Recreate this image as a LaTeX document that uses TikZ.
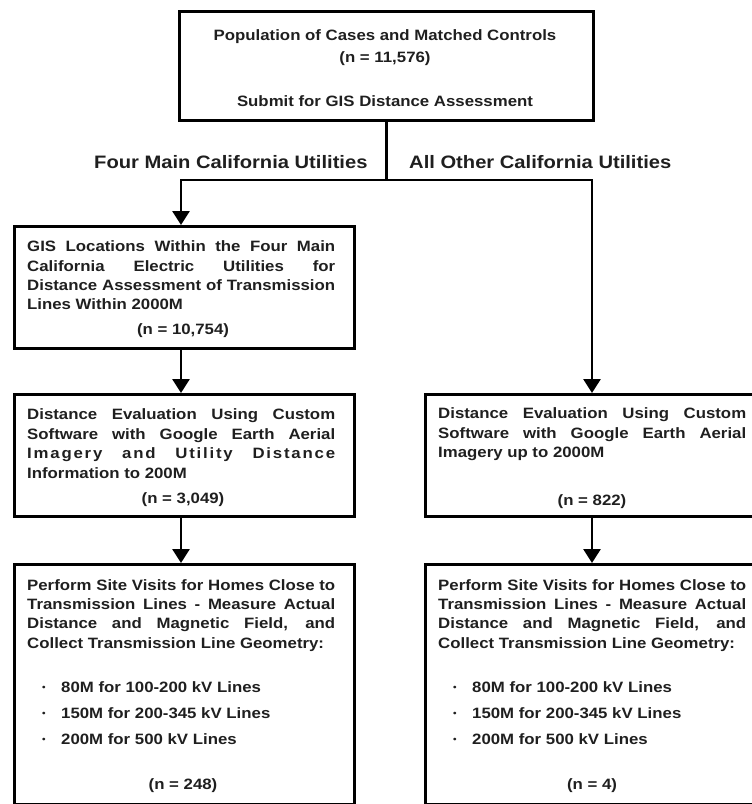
\documentclass[tikz,border=0pt]{standalone}
\usepackage{fontspec}
\setmainfont{Liberation Sans}[FakeStretch=1.12]
\usetikzlibrary{arrows.meta}
\newcommand{\jl}[1]{\makebox[308pt][s]{#1}}
\begin{document}
\begin{tikzpicture}[x=1pt,y=-1pt,
  box/.style={draw=black, line width=2.8pt, inner sep=0pt, anchor=north west},
  tx/.style={anchor=base west, inner sep=0pt, text=black!88, font=\bfseries\fontsize{15}{19}\selectfont},
  ctr/.style={anchor=base, inner sep=0pt, text=black!88, font=\bfseries\fontsize{15}{19}\selectfont},
  lab/.style={anchor=base west, inner sep=0pt, text=black!88, font=\bfseries\fontsize{18}{22}\selectfont},
  bul/.style={anchor=base, inner sep=0pt, text=black!88, font=\bfseries\fontsize{9}{10}\selectfont},
  ln/.style={line width=2.8pt, line join=miter},
  arr/.style={line width=2.8pt, line join=miter, -{Triangle[width=17pt,length=14pt]}}]
\useasboundingbox (0,0) rectangle (752,804);
% boxes
\node[box, minimum width=414pt, minimum height=109pt] (top) at (178,10) {};
\node[box, minimum width=340pt, minimum height=122pt] (lb1) at (13,225) {};
\node[box, minimum width=340pt, minimum height=122pt] (lb2) at (13,393) {};
\node[box, minimum width=340pt, minimum height=240pt] (lb3) at (13,563) {};
\node[box, minimum width=337pt, minimum height=122pt] (rb1) at (424,393) {};
\node[box, minimum width=337pt, minimum height=240pt] (rb2) at (424,563) {};
% top box text
\node[ctr] (t1) at (385,40) {Population of Cases and Matched Controls};
\node[ctr] (t2) at (385,62) {(n = 11,576)};
\node[ctr] (t3) at (385,106) {Submit for GIS Distance Assessment};
% labels
\node[lab] (labl) at (94,168) {Four Main California Utilities};
\node[lab] (labr) at (409,168) {All Other California Utilities};
% connectors
\coordinate (jn) at (top.south |- 0,180);
\coordinate (jl) at (181,180);
\coordinate (jr) at (592,180);
\draw[ln] (top.south) -- (jn);
\draw[arr] (jn) -- (jl) -- (jl |- lb1.north);
\draw[arr] (jn) -- (jr) -- (jr |- rb1.north);
\draw[arr] (lb1.south -| jl) -- (jl |- lb2.north);
\draw[arr] (lb2.south -| jl) -- (jl |- lb3.north);
\draw[arr] (rb1.south -| jr) -- (jr |- rb2.north);
% left box 1
\node[tx] (a1) at (27,251) {\jl{GIS Locations Within the Four Main}};
\node[tx] (a2) at (27,271) {\jl{California Electric Utilities for}};
\node[tx] (a3) at (27,290) {\jl{Distance Assessment of Transmission}};
\node[tx] (a4) at (27,309) {Lines Within 2000M};
\node[ctr] (an) at (183,334) {(n = 10,754)};
% left box 2
\node[tx] (b1) at (27,419) {\jl{Distance Evaluation Using Custom}};
\node[tx] (b2) at (27,439) {\jl{Software with Google Earth Aerial}};
\node[tx] (b3) at (27,458) {\jl{\addfontfeature{LetterSpace=12}Imagery and Utility Distance}};
\node[tx] (b4) at (27,478) {Information to 200M};
\node[ctr] (bn) at (183,503) {(n = 3,049)};
% left box 3
\node[tx] (c1) at (27,590) {\jl{Perform Site Visits for Homes Close to}};
\node[tx] (c2) at (27,609) {\jl{Transmission Lines - Measure Actual}};
\node[tx] (c3) at (27,628) {\jl{Distance and Magnetic Field, and}};
\node[tx] (c4) at (27,648) {Collect Transmission Line Geometry:};
\node[bul] (cb1) at (44,690) {•};
\node[bul] (cb2) at (44,716) {•};
\node[bul] (cb3) at (44,742) {•};
\node[tx] (c5) at (61,692) {80M for 100-200 kV Lines};
\node[tx] (c6) at (61,718) {150M for 200-345 kV Lines};
\node[tx] (c7) at (61,744) {200M for 500 kV Lines};
\node[ctr] (cn) at (183,789) {(n = 248)};
% right box 1
\node[tx] (d1) at (438,418) {\jl{Distance Evaluation Using Custom}};
\node[tx] (d2) at (438,438) {\jl{Software with Google Earth Aerial}};
\node[tx] (d3) at (438,457) {Imagery up to 2000M};
\node[ctr] (dn) at (592,505) {(n = 822)};
% right box 2
\node[tx] (e1) at (438,590) {\jl{Perform Site Visits for Homes Close to}};
\node[tx] (e2) at (438,609) {\jl{Transmission Lines - Measure Actual}};
\node[tx] (e3) at (438,628) {\jl{Distance and Magnetic Field, and}};
\node[tx] (e4) at (438,648) {Collect Transmission Line Geometry:};
\node[bul] (eb1) at (455,690) {•};
\node[bul] (eb2) at (455,716) {•};
\node[bul] (eb3) at (455,742) {•};
\node[tx] (e5) at (472,692) {80M for 100-200 kV Lines};
\node[tx] (e6) at (472,718) {150M for 200-345 kV Lines};
\node[tx] (e7) at (472,744) {200M for 500 kV Lines};
\node[ctr] (en) at (592,789) {(n = 4)};
\end{tikzpicture}
\end{document}
